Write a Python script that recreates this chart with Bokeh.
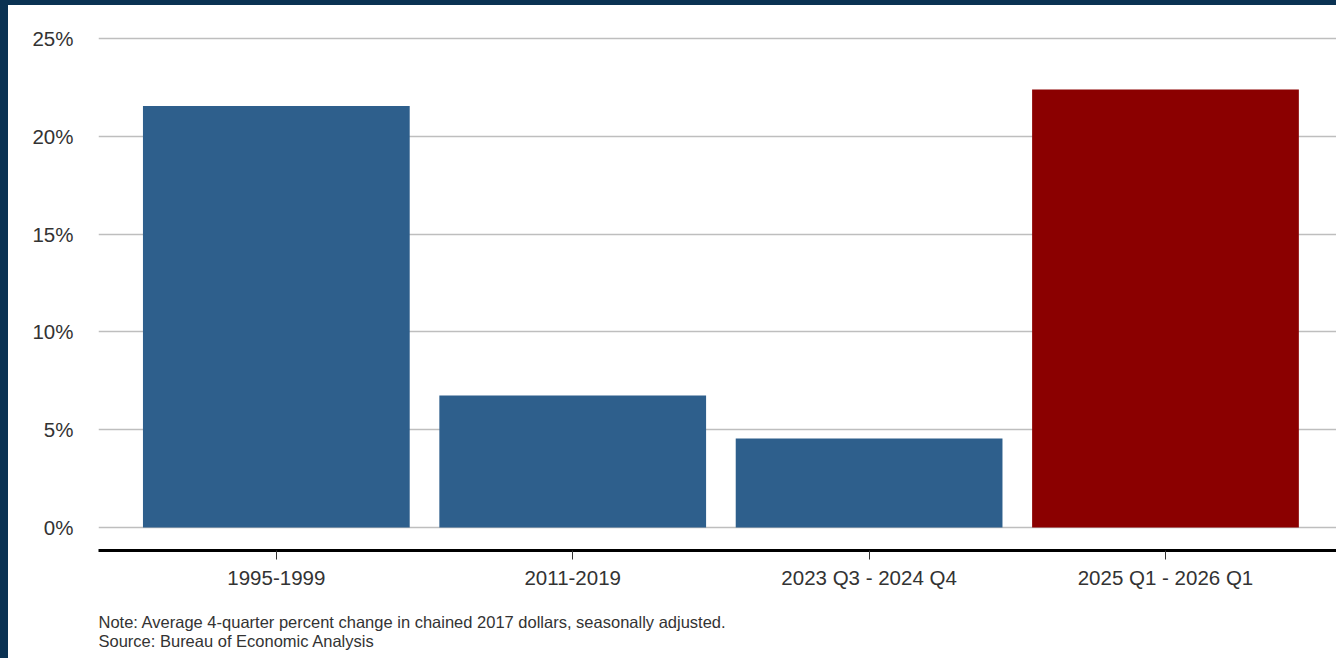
from bokeh.plotting import figure
from bokeh.models import Range1d, FixedTicker, Label, Div
from bokeh.layouts import row, column
from bokeh.embed import file_html
from bokeh.resources import INLINE

categories = ["1995-1999", "2011-2019", "2023 Q3 - 2024 Q4", "2025 Q1 - 2026 Q1"]
values = [21.55, 6.75, 4.55, 22.4]
colors = ["#2e5f8c", "#2e5f8c", "#2e5f8c", "#8b0000"]
y_ticks = [0, 5, 10, 15, 20, 25]
y_tick_labels = ["0%", "5%", "10%", "15%", "20%", "25%"]
note_text = "Note: Average 4-quarter percent change in chained 2017 dollars, seasonally adjusted."
source_text = "Source: Bureau of Economic Analysis"

xs = list(range(len(categories)))

FONT = "Liberation Sans"
DARK = "#0a3253"
W = 1328

p = figure(width=W, height=595, output_backend="svg", toolbar_location=None,
           x_range=Range1d(-0.6, 3.577), y_range=Range1d(-1.176, 26.18),
           min_border_left=90, min_border_right=0, min_border_top=10, min_border_bottom=50)

p.vbar(x=xs, top=values, width=0.9, bottom=0, fill_color=colors, line_color=None)

p.outline_line_color = None
p.background_fill_color = "white"
p.border_fill_color = "white"

p.xgrid.grid_line_color = None
p.ygrid.grid_line_color = "#bebebe"
p.ygrid.grid_line_width = 1.5
p.ygrid.ticker = FixedTicker(ticks=y_ticks)

ya = p.yaxis[0]
ya.ticker = FixedTicker(ticks=y_ticks)
ya.major_label_overrides = {t: l for t, l in zip(y_ticks, y_tick_labels)}
ya.axis_line_color = None
ya.major_tick_line_color = None
ya.minor_tick_line_color = None
ya.major_tick_out = 0
ya.major_tick_in = 0
ya.major_label_standoff = 25
ya.major_label_text_font = FONT
ya.major_label_text_font_size = "20.5px"
ya.major_label_text_color = "#333333"

xa = p.xaxis[0]
xa.ticker = FixedTicker(ticks=xs)
xa.major_label_overrides = {x: c for x, c in zip(xs, categories)}
xa.axis_line_color = "black"
xa.axis_line_width = 3
xa.major_tick_line_color = "#333333"
xa.major_tick_line_width = 1
xa.major_tick_out = 9
xa.major_tick_in = 0
xa.minor_tick_line_color = None
xa.major_label_standoff = 6
xa.major_label_text_font = FONT
xa.major_label_text_font_size = "20.5px"
xa.major_label_text_color = "#333333"

# footer: notes drawn as real SVG text in a small axis-free figure
# (its frame is aligned with the chart's frame by the column layout)
FH = 58
f = figure(width=W, height=FH, output_backend="svg", toolbar_location=None,
           x_range=Range1d(0, 1238), y_range=Range1d(0, FH),
           x_axis_location=None, y_axis_location=None,
           min_border=0, outline_line_color=None)
f.grid.visible = False
f.background_fill_color = "white"
f.border_fill_color = "white"
for txt, yy in [(note_text, FH - 21), (source_text, FH - 40)]:
    f.add_layout(Label(x=0, y=yy, text=txt, text_font=FONT, text_font_size="16.5px",
                       text_color="#333333", text_align="left", text_baseline="middle"))

left_band = Div(text="", width=8, height=658, styles={"background-color": DARK}, margin=0)
top_band = Div(text="", width=W, height=5, styles={"background-color": DARK}, margin=0)
layout = row(left_band, column(top_band, p, f, spacing=0), spacing=0)

open("out.html", "w").write(file_html(layout, INLINE))
